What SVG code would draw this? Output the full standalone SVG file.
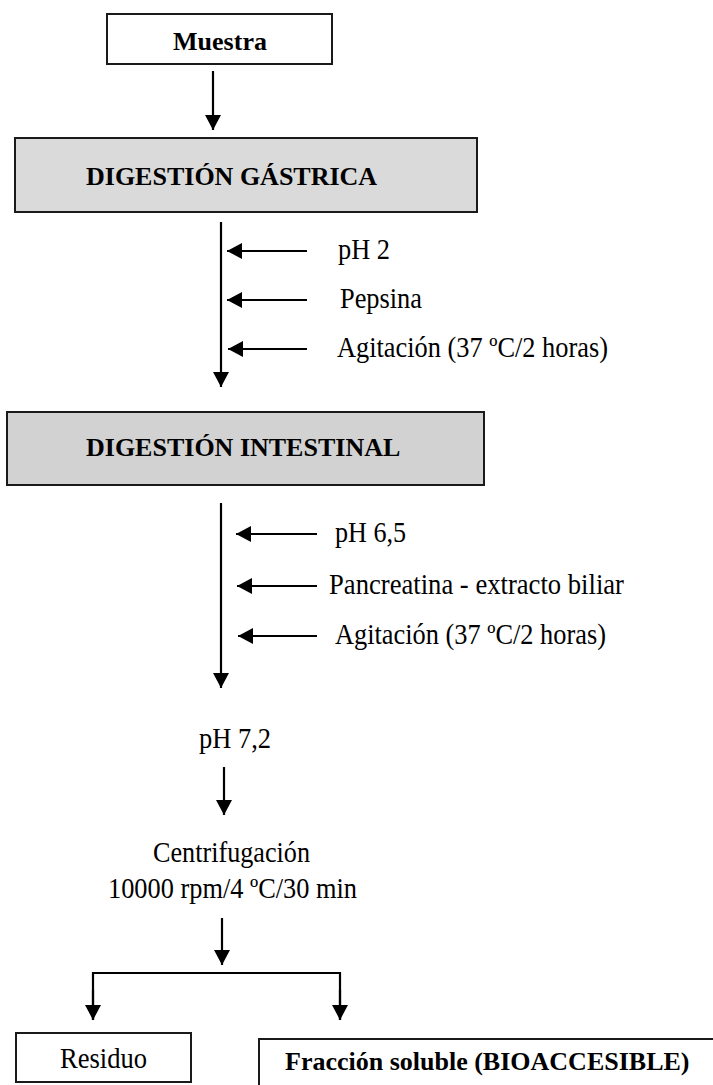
<svg xmlns="http://www.w3.org/2000/svg" width="713" height="1085" viewBox="0 0 713 1085">
<style>
.box{fill:#ffffff;stroke:#1a1a1a;stroke-width:2}
.g1{fill:#dadada;stroke:#1a1a1a;stroke-width:2}
.g2{fill:#d2d2d2;stroke:#1a1a1a;stroke-width:2}
text{font-family:'Liberation Serif',Tinos,'Times New Roman','DejaVu Serif',serif;font-size:29px;fill:#000}
.b{font-weight:bold;font-size:26px}
.ln{stroke:#000;stroke-width:2.2;fill:none}
</style>
<defs>
<marker id="ah" markerWidth="16" markerHeight="16" refX="15" refY="8" orient="auto" markerUnits="userSpaceOnUse">
<path d="M0,0 L15,8 L0,16 Z" fill="#000"/>
</marker>
</defs>
<rect width="713" height="1085" fill="#fff"/>
<g id="muestra">
<rect class="box" x="107" y="14" width="225" height="50"/>
<text class="b" x="220" y="50" text-anchor="middle">Muestra</text>
</g>
<g id="gastrica">
<rect class="g1" x="15" y="138" width="462" height="74"/>
<text class="b" x="86" y="185">DIGESTIÓN GÁSTRICA</text>
</g>
<g id="gastrica-inputs">
<text x="338" y="259" textLength="52" lengthAdjust="spacingAndGlyphs">pH 2</text>
<text x="340" y="308" textLength="82" lengthAdjust="spacingAndGlyphs">Pepsina</text>
<text x="337" y="357" textLength="271" lengthAdjust="spacingAndGlyphs">Agitación (37 ºC/2 horas)</text>
</g>
<g id="intestinal">
<rect class="g2" x="7" y="412" width="477" height="73"/>
<text class="b" x="86" y="456">DIGESTIÓN INTESTINAL</text>
</g>
<g id="intestinal-inputs">
<text x="335" y="542" textLength="71" lengthAdjust="spacingAndGlyphs">pH 6,5</text>
<text x="329" y="594" textLength="295" lengthAdjust="spacingAndGlyphs">Pancreatina - extracto biliar</text>
<text x="335" y="644" textLength="271" lengthAdjust="spacingAndGlyphs">Agitación (37 ºC/2 horas)</text>
</g>
<g id="ph72">
<text x="199" y="748" textLength="72" lengthAdjust="spacingAndGlyphs">pH 7,2</text>
</g>
<g id="centrifugacion">
<text x="153" y="862" textLength="157" lengthAdjust="spacingAndGlyphs">Centrifugación</text>
<text x="108" y="898" textLength="249" lengthAdjust="spacingAndGlyphs">10000 rpm/4 ºC/30 min</text>
</g>
<g id="residuo">
<rect class="box" x="16" y="1033" width="175" height="49"/>
<text x="60" y="1068" textLength="87" lengthAdjust="spacingAndGlyphs">Residuo</text>
</g>
<g id="fraccion">
<rect class="box" x="259" y="1039" width="470" height="60"/>
<text class="b" x="285" y="1070">Fracción soluble (BIOACCESIBLE)</text>
</g>
<g id="connectors">
<line class="ln" x1="213" y1="71" x2="213" y2="130" marker-end="url(#ah)"/>
<line class="ln" x1="221" y1="222" x2="221" y2="387" marker-end="url(#ah)"/>
<line class="ln" x1="307" y1="251" x2="227" y2="251" marker-end="url(#ah)"/>
<line class="ln" x1="307" y1="300" x2="227" y2="300" marker-end="url(#ah)"/>
<line class="ln" x1="307" y1="349" x2="228" y2="349" marker-end="url(#ah)"/>
<line class="ln" x1="221" y1="503" x2="221" y2="688" marker-end="url(#ah)"/>
<line class="ln" x1="317" y1="534" x2="236" y2="534" marker-end="url(#ah)"/>
<line class="ln" x1="317" y1="586" x2="237" y2="586" marker-end="url(#ah)"/>
<line class="ln" x1="317" y1="636" x2="238" y2="636" marker-end="url(#ah)"/>
<line class="ln" x1="224" y1="767" x2="224" y2="815" marker-end="url(#ah)"/>
<line class="ln" x1="222" y1="918" x2="222" y2="965" marker-end="url(#ah)"/>
<polyline class="ln" points="93,1020 93,973 340,973 340,1020"/>
<line class="ln" x1="93" y1="990" x2="93" y2="1020" marker-end="url(#ah)"/>
<line class="ln" x1="340" y1="990" x2="340" y2="1020" marker-end="url(#ah)"/>
</g>
</svg>
